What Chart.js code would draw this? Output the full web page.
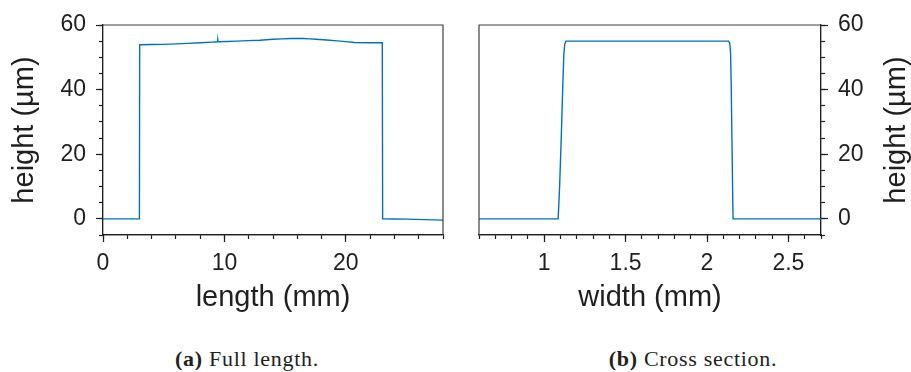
<!DOCTYPE html>
<html>
<head>
<meta charset="utf-8">
<script src="https://cdn.jsdelivr.net/npm/chart.js@4/dist/chart.umd.min.js"></script>
<style>
  html, body { margin: 0; padding: 0; background: #fff; width: 911px; height: 372px; overflow: hidden; }
  canvas { position: absolute; top: 0; }
  #lengthChart { left: 0; }
  #widthChart { left: 460px; }
  .cap {
    position: absolute; top: 348px; line-height: 22px;
    font-family: 'Liberation Serif', 'Times New Roman', serif; font-size: 22px;
    letter-spacing: 0.7px; color: #222; white-space: nowrap; transform: translateX(-50%);
  }
</style>
</head>
<body>
<canvas id="lengthChart" width="460" height="320"></canvas>
<canvas id="widthChart" width="451" height="320"></canvas>
<div class="cap" style="left:247px"><b>(a)</b> Full length.</div>
<div class="cap" style="left:693px"><b>(b)</b> Cross section.</div>

<script>
// Profile along the full length of the strip (mm, µm)
const lengthMm     = [0, 1.5, 2.99, 3.0, 3.02, 5, 7, 9, 9.43, 9.45, 9.47, 11, 12.9, 14, 15.5, 16.5, 17.5, 19.3, 20.7, 22, 23.0, 23.03, 25, 28];
const lengthHeight = [0, 0,   0,    0,   53.9, 54.0, 54.3, 54.7, 54.8, 55.5, 54.8, 55.0, 55.3, 55.6, 55.8, 55.8, 55.6, 55.1, 54.6, 54.5, 54.5, 0, -0.1, -0.4];

// Profile across the strip (mm, µm)
const widthMm     = [0.6, 1.086, 1.095, 1.105, 1.115, 1.121, 1.126, 1.134, 1.4, 1.7, 2.0, 2.133, 2.14, 2.145, 2.149, 2.153, 2.157, 2.16, 2.4, 2.7];
const widthHeight = [0,   0,     10,    25,    42,    51,    54,    55,    55,  55,  55,  55,    54.3, 51,    40,    25,    10,    0,    0,   0];

// Labelled ticks
const heightTicks = [0, 20, 40, 60];
const lengthTicks = [0, 10, 20];
const widthTicks  = [1, 1.5, 2, 2.5];

const INK = '#1f1f1f';
const LINE = '#0072BD';
const SANS = "'Liberation Sans', Arial, Helvetica, sans-serif";

// Box lines on the two sides that carry no axis
const framePlugin = {
  id: 'frame',
  afterDraw(chart, args, opts) {
    const { ctx, chartArea: { left, right, top, bottom } } = chart;
    ctx.save();
    ctx.strokeStyle = opts.color;
    ctx.lineWidth = opts.width;
    ctx.beginPath();
    if (opts.open === 'right') {
      ctx.moveTo(left, bottom); ctx.lineTo(left, top); ctx.lineTo(right, top);
    } else {
      ctx.moveTo(left, top); ctx.lineTo(right, top); ctx.lineTo(right, bottom);
    }
    ctx.stroke();
    ctx.restore();
  }
};

// Right-hand axis title, read from bottom to top
const sideTitlePlugin = {
  id: 'sideTitle',
  afterDraw(chart, args, opts) {
    if (!opts.text) return;
    const { ctx, chartArea: { top, bottom } } = chart;
    ctx.save();
    ctx.translate(opts.x, (top + bottom) / 2);
    ctx.rotate(-Math.PI / 2);
    ctx.font = opts.size + 'px ' + SANS;
    ctx.fillStyle = INK;
    ctx.textAlign = 'center';
    ctx.textBaseline = 'alphabetic';
    ctx.fillText(opts.text, 0, 0);
    ctx.restore();
  }
};

function tickValues(values) {
  return scale => { scale.ticks = values.map(v => ({ value: v })); };
}

function majorAxis(position, min, max, values, size, title) {
  const horizontal = position === 'bottom';
  return {
    type: 'linear', position, min, max, weight: 1,
    afterBuildTicks: tickValues(values),
    afterFit: s => { if (horizontal) s.height = 85; else s.width = size; },
    ticks: {
      font: { family: SANS, size: 23 }, color: INK, padding: horizontal ? 8 : 10,
      autoSkip: false, maxRotation: 0, callback: v => String(v)
    },
    grid: { drawOnChartArea: false, drawTicks: true, tickLength: 7, tickWidth: 1.2, tickColor: INK },
    border: { display: true, color: INK, width: 1.2 },
    title: title ? {
      display: true, text: title, color: INK,
      font: { family: SANS, size: 29 },
      padding: horizontal ? { top: 0, bottom: 5 } : { top: 8, bottom: 0 }
    } : { display: false }
  };
}

function minorAxis(position, min, max, step) {
  const horizontal = position === 'bottom';
  return {
    type: 'linear', position, min, max, weight: 0,
    afterFit: s => { if (horizontal) s.height = 0; else s.width = 0; },
    ticks: { display: false, stepSize: step, autoSkip: false, maxTicksLimit: 100, includeBounds: false },
    grid: { drawOnChartArea: false, drawTicks: true, tickLength: 4, tickWidth: 1.2, tickColor: INK },
    border: { display: true, color: INK, width: 1.2 }
  };
}

function profile(xs, ys) {
  return xs.map((x, i) => ({ x, y: ys[i] }));
}

function makeChart(id, cfg) {
  return new Chart(document.getElementById(id), {
    type: 'scatter',
    data: {
      datasets: [{
        data: profile(cfg.xs, cfg.ys),
        showLine: true, borderColor: LINE, borderWidth: 1.4,
        pointRadius: 0, pointHoverRadius: 0,
        // a hair of tension keeps every vertex on the full path renderer
        tension: 1e-6, fill: false
      }]
    },
    options: {
      responsive: false, animation: false, events: [],
      layout: { padding: cfg.padding },
      plugins: {
        legend: { display: false }, tooltip: { enabled: false },
        frame: { color: '#404040', width: 1.2, open: cfg.yPos === 'right' ? 'right' : 'left' },
        sideTitle: cfg.sideTitle || {}
      },
      scales: {
        x: majorAxis('bottom', cfg.xMin, cfg.xMax, cfg.xTicks, 0, cfg.xTitle),
        xMinor: minorAxis('bottom', cfg.xMin, cfg.xMax, cfg.xMinorStep),
        y: majorAxis(cfg.yPos, -5, 60, heightTicks, cfg.yWidth, cfg.yTitle),
        yMinor: minorAxis(cfg.yPos, -5, 60, 5)
      }
    },
    plugins: [framePlugin, sideTitlePlugin]
  });
}

makeChart('lengthChart', {
  xs: lengthMm, ys: lengthHeight,
  xMin: 0, xMax: 28, xTicks: lengthTicks, xMinorStep: 2, xTitle: 'length (mm)',
  yPos: 'left', yWidth: 103, yTitle: 'height (µm)',
  padding: { top: 25, left: 0, right: 17, bottom: 0 }
});

makeChart('widthChart', {
  xs: widthMm, ys: widthHeight,
  xMin: 0.6, xMax: 2.7, xTicks: widthTicks, xMinorStep: 0.1, xTitle: 'width (mm)',
  yPos: 'right', yWidth: 90, yTitle: null,
  sideTitle: { text: 'height (µm)', x: 445, size: 29 },
  padding: { top: 25, left: 19, right: 0, bottom: 0 }
});
</script>
</body>
</html>
